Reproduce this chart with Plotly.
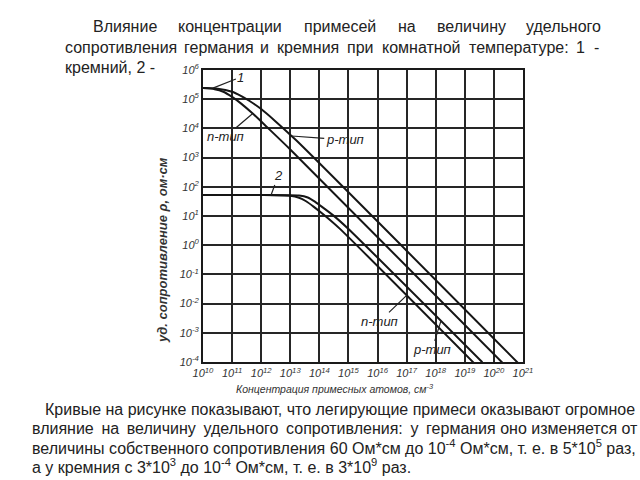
import plotly.graph_objects as go

# ---------------- data ----------------
# Curve 1: silicon, n-type and p-type
si_n_conc = [1e10, 2.5e10, 5e10, 1e11, 2e11, 5e11, 1.6e12, 1e13, 2.5e20]
si_n_res = [2.4e5, 2.2e5, 1.8e5, 1.2e5, 7.2e4, 3.3e4, 1.1e4, 1.9e3, 7.4e-5]
si_p_conc = [1e10, 3.2e10, 1e11, 2e11, 4e11, 1e12, 3.2e12, 1.6e13, 8e20]
si_p_res = [2.4e5, 2.3e5, 1.8e5, 1.3e5, 8.7e4, 4.6e4, 1.7e4, 3.9e3, 7.8e-5]
# Curve 2: germanium, n-type and p-type
ge_n_conc = [1e10, 1e12, 1e13, 2e13, 3.5e13, 6.3e13, 1.6e14, 5e14, 2e19]
ge_n_res = [52, 52, 49, 42, 32, 21, 10, 3.7, 9.5e-5]
ge_p_conc = [1e10, 1e12, 2e13, 4e13, 7e13, 1.2e14, 3e14, 1e15, 4e19]
ge_p_res = [52, 52, 50, 43, 31, 21, 10.5, 3.6, 9.8e-5]

x_tick_vals = [1e10, 1e11, 1e12, 1e13, 1e14, 1e15, 1e16, 1e17, 1e18, 1e19, 1e20, 1e21]
x_tick_text = ["10<sup>10</sup>", "10<sup>11</sup>", "10<sup>12</sup>", "10<sup>13</sup>",
               "10<sup>14</sup>", "10<sup>15</sup>", "10<sup>16</sup>", "10<sup>17</sup>",
               "10<sup>18</sup>", "10<sup>19</sup>", "10<sup>20</sup>", "10<sup>21</sup>"]
y_tick_vals = [1e6, 1e5, 1e4, 1e3, 1e2, 1e1, 1e0, 1e-1, 1e-2, 1e-3, 1e-4]
y_tick_text = ["10<sup>6</sup>", "10<sup>5</sup>", "10<sup>4</sup>", "10<sup>3</sup>",
               "10<sup>2</sup>", "10<sup>1</sup>", "10<sup>0</sup>", "10<sup>-1</sup>",
               "10<sup>-2</sup>", "10<sup>-3</sup>", "10<sup>-4</sup>"]

# ---------------- layout helpers ----------------
W, H = 640, 480
L, R, T, B = 203, 523, 70, 362


def px(x, y):
    return (x - L) / (R - L), (B - y) / (B - T)


fig = go.Figure()
line_style = dict(color="#151515", width=2)
for cx, cy in [(si_n_conc, si_n_res), (si_p_conc, si_p_res),
               (ge_n_conc, ge_n_res), (ge_p_conc, ge_p_res)]:
    fig.add_trace(go.Scatter(x=cx, y=cy, mode="lines",
                             line=dict(shape="spline", smoothing=0.6, **line_style),
                             hoverinfo="skip"))

tick_font = dict(family="Liberation Sans, Arial, sans-serif", size=11, color="#333", style="italic")
fig.update_xaxes(type="log", range=[10, 21], tickvals=x_tick_vals, ticktext=x_tick_text,
                 showgrid=True, gridcolor="#262626", gridwidth=1.8, showline=True, linecolor="#1a1a1a",
                 linewidth=2, mirror=True, ticks="", tickfont=tick_font, zeroline=False)
fig.update_yaxes(type="log", range=[-4, 6], tickvals=y_tick_vals, ticktext=y_tick_text,
                 showgrid=True, gridcolor="#262626", gridwidth=1.8, showline=True, linecolor="#1a1a1a",
                 linewidth=2, mirror=True, ticks="", tickfont=tick_font, zeroline=False)

annotations = []
text_font = dict(family="Liberation Sans, Arial, sans-serif", size=16, color="#222")

title_words = [
    (27, [("Влияние", 91), ("концентрации", 176), ("примесей", 302), ("на", 396),
          ("величину", 435), ("удельного", 524)]),
    (47, [("сопротивления", 63), ("германия", 182), ("и", 258), ("кремния", 275), ("при", 345),
          ("комнатной", 380), ("температуре:", 467), ("1", 574), ("-", 592)]),
    (67, [("кремний, 2 -", 63)]),
]
for yy, words in title_words:
    for w, xx in words:
        ax_, ay_ = px(xx, yy)
        annotations.append(dict(x=ax_, y=ay_, xref="paper", yref="paper", text=w, showarrow=False,
                                xanchor="left", yanchor="middle", font=text_font))

THIN = "\u2009"
line2 = ("влияние " + THIN + "на " + THIN + "величину " + THIN + "удельного " + THIN +
         "сопротивления: " + THIN + "у " + THIN + "германия оно изменяется от")
body_lines = [
    (43, 409, "Кривые на рисунке показывают, что легирующие примеси оказывают огромное"),
    (30, 428, line2),
    (30, 447, "величины собственного сопротивления 60 Ом*см до 10<sup>-4</sup> Ом*см, т. е. в 5*10<sup>5</sup> раз,"),
    (30, 466, "а у кремния с 3*10<sup>3</sup> до 10<sup>-4</sup> Ом*см, т. е. в 3*10<sup>9</sup> раз."),
]
for xx, yy, t in body_lines:
    ax_, ay_ = px(xx, yy)
    annotations.append(dict(x=ax_, y=ay_, xref="paper", yref="paper", text=t, showarrow=False,
                            xanchor="left", yanchor="middle", font=text_font))

# axis titles
ax_, ay_ = px(335, 388)
annotations.append(dict(x=ax_, y=ay_, xref="paper", yref="paper",
                        text="<i>Концентрация примесных атомов, см<sup>-3</sup></i>", showarrow=False,
                        xanchor="center", yanchor="middle",
                        font=dict(family="Liberation Sans, Arial, sans-serif", size=10.5, color="#333")))
ax_, ay_ = px(162, 250)
annotations.append(dict(x=ax_, y=ay_, xref="paper", yref="paper", textangle=-90,
                        text="<i><b>уд. сопротивление ρ, ом·см</b></i>", showarrow=False,
                        xanchor="center", yanchor="middle",
                        font=dict(family="Liberation Sans, Arial, sans-serif", size=13, color="#333")))

# curve labels with leader lines
label_font = dict(family="Liberation Sans, Arial, sans-serif", size=13, color="#222", style="italic")
curve_labels = [
    ("1", 10.34, 5.38, 28, -11),
    ("2", 12.34, 1.72, 7, -19),
    ("n-тип", 11.7, 4.50, -27, 23),
    ("p-тип", 13.05, 3.74, 53, 4),
    ("n-тип", 17.0, -1.72, -27, 26),
    ("p-тип", 18.18, -2.59, -9, 29),
]
for t, lx, ly, dx, dy in curve_labels:
    annotations.append(dict(x=lx, y=ly, xref="x", yref="y", text=t, showarrow=True, arrowhead=0,
                            arrowwidth=1.2, arrowcolor="#222", ax=dx, ay=dy, font=label_font,
                            standoff=0))

fig.update_layout(width=W, height=H, margin=dict(l=L, r=W - R, t=T, b=H - B),
                  plot_bgcolor="white", paper_bgcolor="white", showlegend=False,
                  annotations=annotations)

fig.write_html("out.html")
